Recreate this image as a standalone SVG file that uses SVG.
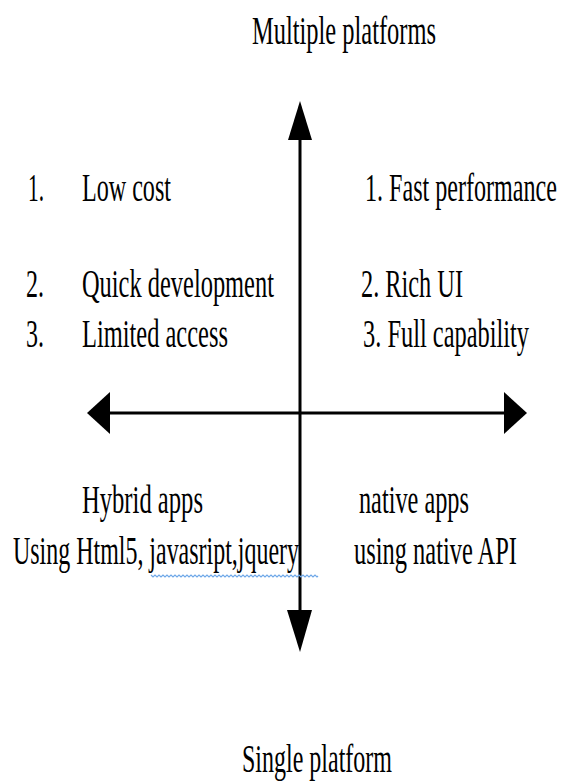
<svg xmlns="http://www.w3.org/2000/svg" width="563" height="782" viewBox="0 0 563 782">
<style>
text{font-family:"Liberation Serif","Times New Roman",serif;font-size:39px;fill:#000}
.ax{stroke:#000;stroke-width:3;fill:none}
.hd{fill:#000;stroke:none}
.sq{stroke:#6fa8e8;stroke-width:1.2;fill:none}
</style>
<rect width="563" height="782" fill="#fff"/>
<g id="connectors">
<line class="ax" x1="300" y1="138" x2="300" y2="612"/>
<polygon class="hd" points="300,101 288,140 312,140"/>
<polygon class="hd" points="300,652 287,610 312,610"/>
<line class="ax" x1="108" y1="413" x2="506" y2="413"/>
<polygon class="hd" points="87,413 110,392 110,434"/>
<polygon class="hd" points="527,413 504,392 504,434"/>
</g>
<g id="top-label" transform="scale(0.64,1)"><text x="393.75" y="44" textLength="287.5" lengthAdjust="spacingAndGlyphs">Multiple platforms</text></g>
<g id="bottom-label" transform="scale(0.64,1)"><text x="378.1" y="772" textLength="234.4" lengthAdjust="spacingAndGlyphs">Single platform</text></g>
<g id="left-list" transform="scale(0.64,1)">
<text x="43.75" y="201" textLength="25" lengthAdjust="spacingAndGlyphs">1.</text>
<text x="128.1" y="201" textLength="139.1" lengthAdjust="spacingAndGlyphs">Low cost</text>
<text x="40.6" y="297" textLength="28.1" lengthAdjust="spacingAndGlyphs">2.</text>
<text x="128.1" y="297" textLength="300" lengthAdjust="spacingAndGlyphs">Quick development</text>
<text x="40.6" y="347" textLength="28.1" lengthAdjust="spacingAndGlyphs">3.</text>
<text x="128.1" y="347" textLength="228.1" lengthAdjust="spacingAndGlyphs">Limited access</text>
</g>
<g id="right-list" transform="scale(0.64,1)">
<text x="570.3" y="201" textLength="300" lengthAdjust="spacingAndGlyphs">1. Fast performance</text>
<text x="564.1" y="297" textLength="159.4" lengthAdjust="spacingAndGlyphs">2. Rich UI</text>
<text x="567.2" y="347" textLength="259.4" lengthAdjust="spacingAndGlyphs">3. Full capability</text>
</g>
<g id="hybrid">
<g transform="scale(0.64,1)">
<text x="128.1" y="513" textLength="189.1" lengthAdjust="spacingAndGlyphs">Hybrid apps</text>
<text x="20.3" y="564" textLength="446.9" lengthAdjust="spacingAndGlyphs">Using Html5, javasript,jquery</text>
</g>
<path class="sq" d="M151,575 l2,2 l2,-2 l2,2 l2,-2 l2,2 l2,-2 l2,2 l2,-2 l2,2 l2,-2 l2,2 l2,-2 l2,2 l2,-2 l2,2 l2,-2 l2,2 l2,-2 l2,2 l2,-2 l2,2 l2,-2 l2,2 l2,-2 l2,2 l2,-2 l2,2 l2,-2 l2,2 l2,-2 l2,2 l2,-2 l2,2 l2,-2 l2,2 l2,-2 l2,2 l2,-2 l2,2 l2,-2 l2,2 l2,-2 l2,2 l2,-2 l2,2 l2,-2 l2,2 l2,-2 l2,2 l2,-2 l2,2 l2,-2 l2,2 l2,-2 l2,2 l2,-2 l2,2 l2,-2 l2,2 l2,-2 l2,2 l2,-2 l2,2 l2,-2 l2,2 l2,-2 l2,2 l2,-2 l2,2 l2,-2 l2,2 l2,-2 l2,2 l2,-2 l2,2 l2,-2 l2,2 l2,-2 l2,2 l2,-2 l2,2 l2,-2 l2,2 l1,-1"/>
</g>
<g id="native" transform="scale(0.64,1)">
<text x="560.9" y="513" textLength="171.9" lengthAdjust="spacingAndGlyphs">native apps</text>
<text x="553.1" y="564" textLength="254.7" lengthAdjust="spacingAndGlyphs">using native API</text>
</g>
</svg>
